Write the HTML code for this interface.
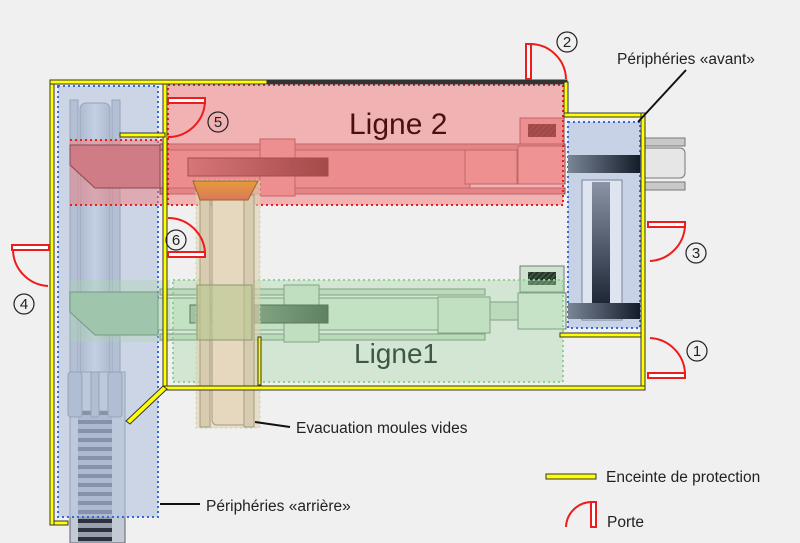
<!DOCTYPE html>
<html><head><meta charset="utf-8"><style>
html,body{margin:0;padding:0;background:#f0f0f0}
svg{display:block}
text{font-family:"Liberation Sans","DejaVu Sans",sans-serif}
</style></head><body>
<svg width="800" height="543" viewBox="0 0 800 543" xmlns="http://www.w3.org/2000/svg">
<defs>
<linearGradient id="dr" x1="0" x2="1"><stop offset="0" stop-color="#b86a72"/><stop offset="1" stop-color="#4a0808"/></linearGradient>
<linearGradient id="dg" x1="0" x2="1"><stop offset="0" stop-color="#9fb89f"/><stop offset="1" stop-color="#2f4a34"/></linearGradient>
<linearGradient id="db" x1="0" x2="1"><stop offset="0" stop-color="#7a8596"/><stop offset="1" stop-color="#141c2a"/></linearGradient>
<linearGradient id="dbv" x1="0" y1="0" x2="0" y2="1"><stop offset="0" stop-color="#8a94a6"/><stop offset="1" stop-color="#121a28"/></linearGradient>
<linearGradient id="or" x1="0" y1="0" x2="0" y2="1"><stop offset="0" stop-color="#e89a3a"/><stop offset="1" stop-color="#d77a5a"/></linearGradient>
<linearGradient id="tube" x1="0" x2="1"><stop offset="0" stop-color="#9aa3b2"/><stop offset=".5" stop-color="#d8dfea"/><stop offset="1" stop-color="#9aa3b2"/></linearGradient>
<pattern id="roll" width="30" height="9" patternUnits="userSpaceOnUse"><rect width="30" height="9" fill="#2a3240"/><rect y="1" width="30" height="5" fill="#98a0ac"/></pattern>
<pattern id="hatch" width="4" height="4" patternUnits="userSpaceOnUse" patternTransform="rotate(45)"><rect width="4" height="4" fill="#5a1010"/><rect width="1.5" height="4" fill="#2a0505"/></pattern>
<pattern id="hatchg" width="4" height="4" patternUnits="userSpaceOnUse" patternTransform="rotate(45)"><rect width="4" height="4" fill="#3a5040"/><rect width="1.5" height="4" fill="#1e2e22"/></pattern>
</defs>

<rect x="70" y="100" width="8" height="310" fill="#aab2c0" stroke="#5a6270"/>
<rect x="112" y="100" width="8" height="310" fill="#aab2c0" stroke="#5a6270"/>
<rect x="80" y="103" width="30" height="310" rx="6" fill="url(#tube)" stroke="#5a6270"/>
<rect x="70" y="372" width="55" height="171" fill="#c4cad4" stroke="#5a6270"/>
<rect x="78" y="410" width="34" height="133" fill="url(#roll)"/>
<rect x="68" y="372" width="14" height="45" rx="3" fill="#a4acba" stroke="#5a6270"/>
<rect x="91" y="372" width="8" height="45" rx="2" fill="#a4acba" stroke="#5a6270"/>
<rect x="108" y="372" width="14" height="45" rx="3" fill="#a4acba" stroke="#5a6270"/>

<rect x="58" y="86" width="100" height="431" fill="#b8c6e0" fill-opacity=".65" stroke="#3a6ad8" stroke-width="2" stroke-dasharray="2 3"/>

<rect x="640" y="138" width="45" height="8" fill="#c8c8c8" stroke="#777"/>
<rect x="640" y="182" width="45" height="8" fill="#c8c8c8" stroke="#777"/>
<rect x="640" y="148" width="45" height="30" rx="5" fill="#e6e6e6" stroke="#777"/>
<rect x="568" y="122" width="72" height="206" fill="#c8d2e6" stroke="#3a6ad8" stroke-width="2" stroke-dasharray="2 3"/>
<rect x="582" y="180" width="40" height="140" fill="#dfe5f0" stroke="#7a8496"/>
<rect x="592" y="182" width="18" height="136" fill="url(#dbv)"/>
<rect x="568" y="155" width="72" height="18" fill="url(#db)"/>
<rect x="568" y="303" width="72" height="16" fill="url(#db)"/>

<rect x="70" y="140" width="98" height="65" fill="#f08080" fill-opacity=".5"/>
<rect x="160" y="144" width="405" height="6" fill="#d88a8e" stroke="#8a4a50"/>
<rect x="160" y="188" width="405" height="6" fill="#d88a8e" stroke="#8a4a50"/>
<rect x="150" y="150" width="320" height="38" fill="#e89ca0" stroke="#8a4a50"/>
<rect x="465" y="150" width="52" height="34" fill="#eaa2a4" stroke="#8a4a50"/>
<rect x="518" y="146" width="47" height="38" fill="#f0acae" stroke="#8a4a50"/>
<rect x="520" y="118" width="44" height="26" fill="#e8a0a4" stroke="#8a4a50"/>
<rect x="528" y="124" width="28" height="13" fill="url(#hatch)"/>
<polygon points="70,145 160,145 160,188 95,188 70,165" fill="#d07c86" stroke="#8a4a50"/>
<rect x="260" y="139" width="35" height="57" fill="#eaa0a4" stroke="#8a4a50"/>
<rect x="188" y="158" width="140" height="18" fill="url(#dr)" stroke="#4a1010"/>

<rect x="160" y="289" width="325" height="6" fill="#c6dcc6" stroke="#6a8070"/>
<rect x="160" y="334" width="325" height="6" fill="#c6dcc6" stroke="#6a8070"/>
<rect x="150" y="298" width="290" height="32" fill="#d6e8d6" stroke="#6a8070"/>
<rect x="438" y="297" width="52" height="36" fill="#d2e6d2" stroke="#6a8070"/>
<rect x="490" y="302" width="28" height="18" fill="#c8dcc8" stroke="#6a8070"/>
<rect x="518" y="293" width="48" height="36" fill="#dcecdc" stroke="#6a8070"/>
<rect x="520" y="266" width="44" height="26" fill="#cfe2cf" stroke="#6a8070"/>
<rect x="528" y="272" width="28" height="13" fill="url(#hatchg)"/>
<polygon points="70,292 158,292 158,335 95,335 70,312" fill="#9cbcb0" stroke="#5a7a70"/>
<rect x="284" y="285" width="35" height="57" fill="#d0e4d0" stroke="#6a8070"/>
<rect x="190" y="305" width="138" height="18" fill="url(#dg)" stroke="#2a3a2e"/>

<rect x="168" y="85" width="395" height="120" fill="#f08080" fill-opacity=".55" stroke="#ee1c1c" stroke-width="2" stroke-dasharray="2 3"/>
<line x1="70" y1="140" x2="168" y2="140" stroke="#ee1c1c" stroke-width="2" stroke-dasharray="2 3"/>
<line x1="70" y1="205" x2="168" y2="205" stroke="#ee1c1c" stroke-width="2" stroke-dasharray="2 3"/>

<rect x="70" y="280" width="100" height="62" fill="#a8d8a8" fill-opacity=".35"/>
<rect x="173" y="280" width="390" height="102" fill="#a8d8a8" fill-opacity=".4" stroke="#90d090" stroke-width="2" stroke-dasharray="2 3"/>

<rect x="196" y="180" width="64" height="248" fill="#e0d2b0" fill-opacity=".6" stroke="#c0d8b0" stroke-dasharray="2 3"/>
<rect x="212" y="190" width="36" height="235" rx="5" fill="#e6d8be" stroke="#a89a80"/>
<rect x="200" y="195" width="10" height="232" fill="#d8ccb0" stroke="#a89a80"/>
<rect x="244" y="195" width="10" height="232" fill="#d8ccb0" stroke="#a89a80"/>
<polygon points="193,181 258,181 248,200 200,200" fill="url(#or)" stroke="#a06030"/>
<rect x="197" y="285" width="55" height="55" fill="#b8c890" fill-opacity=".6" stroke="#8a9a70"/>

<g stroke="#333" stroke-width="1">
<rect x="50" y="80" width="4" height="445" fill="#ffff00"/>
<rect x="50" y="80" width="217" height="4" fill="#ffff00"/>
<rect x="267" y="80" width="300" height="4" fill="#333"/>
<rect x="564" y="82" width="4" height="35" fill="#ffff00"/>
<rect x="564" y="113" width="81" height="4" fill="#ffff00"/>
<rect x="641" y="113" width="4" height="277" fill="#ffff00"/>
<rect x="560" y="333" width="81" height="4" fill="#ffff00"/>
<rect x="163" y="84" width="4" height="302" fill="#ffff00"/>
<rect x="120" y="133" width="45" height="4" fill="#ffff00"/>
<rect x="163" y="386" width="482" height="4" fill="#ffff00"/>
<rect x="258" y="337" width="3" height="48" fill="#ffff00"/>
<rect x="54" y="521" width="14" height="4" fill="#ffff00"/>
<polygon points="163,386 167,389 130,424 126,421" fill="#ffff00"/>
<rect x="546" y="474" width="50" height="5" fill="#ffff00"/>
</g>

<g fill="none" stroke="#ee1c1c" stroke-width="2">
<rect x="526" y="44" width="5" height="35" fill="#fff"/><path d="M531,44 A36,36 0 0 1 566,79"/>
<rect x="168" y="98" width="37" height="5" fill="#fff"/><path d="M205,100 A37,37 0 0 1 168,137"/>
<rect x="168" y="252" width="37" height="5" fill="#fff"/><path d="M168,218 A37,37 0 0 1 205,252"/>
<rect x="648" y="222" width="37" height="5" fill="#fff"/><path d="M685,225 A37,37 0 0 1 650,261"/>
<rect x="648" y="373" width="37" height="5" fill="#fff"/><path d="M650,338 A37,37 0 0 1 685,373"/>
<rect x="12" y="245" width="37" height="5" fill="#fff"/><path d="M13,250 A37,37 0 0 0 48,286"/>
<rect x="591" y="502" width="5" height="25" fill="#fff"/><path d="M566,527 A26,26 0 0 1 592,502"/>
</g>

<g fill="none" stroke="#222" stroke-width="1.2">
<circle cx="567" cy="42" r="10"/><circle cx="218" cy="122" r="10"/><circle cx="176" cy="240" r="10"/>
<circle cx="696" cy="253" r="10"/><circle cx="24" cy="304" r="10"/><circle cx="697" cy="351" r="10"/>
</g>
<g font-size="15" fill="#222" text-anchor="middle">
<text x="567" y="47">2</text><text x="218" y="127">5</text><text x="176" y="245">6</text>
<text x="696" y="258">3</text><text x="24" y="309">4</text><text x="697" y="356">1</text>
</g>

<g stroke="#111" stroke-width="2">
<line x1="638" y1="122" x2="686" y2="70"/>
<line x1="255" y1="422" x2="290" y2="427"/>
<line x1="160" y1="504" x2="200" y2="504"/>
</g>

<text x="349" y="134" font-size="30" fill="#4a1010">Ligne 2</text>
<text x="354" y="363" font-size="28" fill="#3e5848">Ligne1</text>
<g font-size="15.5" fill="#222">
<text x="617" y="64">Périphéries «avant»</text>
<text x="296" y="433">Evacuation moules vides</text>
<text x="206" y="511">Périphéries «arrière»</text>
<text x="606" y="482">Enceinte de protection</text>
<text x="607" y="527">Porte</text>
</g>
</svg>
</body></html>
